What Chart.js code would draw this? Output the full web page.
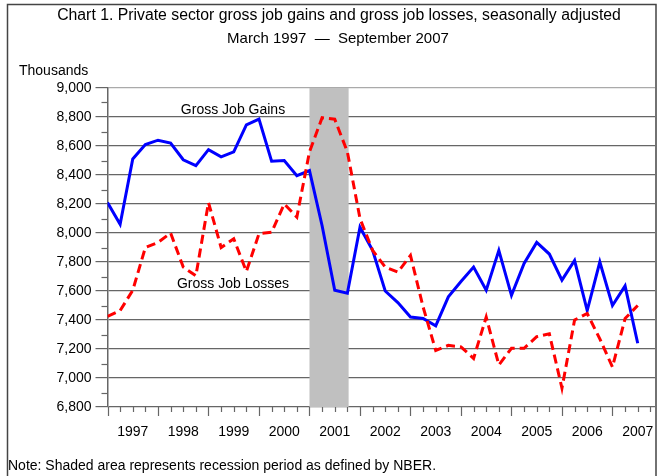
<!DOCTYPE html>
<html>
<head>
<meta charset="utf-8">
<script src="https://cdn.jsdelivr.net/npm/chart.js@4.4.1/dist/chart.umd.min.js"></script>
<style>
  body { margin: 0; background: #fff; }
  #wrap { width: 658px; height: 476px; }
</style>
</head>
<body>
<div id="wrap"><canvas id="myChart" width="658" height="476"></canvas></div>
<script>
// data, quarterly, March 1997 -> September 2007 (thousands)
const years = ["1997", "1998", "1999", "2000", "2001", "2002", "2003", "2004", "2005", "2006", "2007"];
const gains = [8210, 8060, 8510, 8610, 8640, 8620, 8505, 8465, 8575, 8525, 8560, 8745, 8785, 8495, 8500, 8395,
               8430, 8050, 7605, 7585, 8040, 7880, 7600, 7520, 7420, 7410, 7360, 7560, 7665, 7765, 7605, 7880,
               7570, 7790, 7935, 7855, 7675, 7810, 7465, 7800, 7500, 7635, 7240];
const losses = [7425, 7465, 7605, 7900, 7935, 8000, 7765, 7705, 8210, 7900, 7960, 7735, 7995, 8005, 8200, 8110,
                8560, 8795, 8785, 8560, 8100, 7880, 7765, 7730, 7845, 7490, 7190, 7225, 7215, 7135, 7420, 7090,
                7205, 7205, 7285, 7305, 6930, 7400, 7445, 7270, 7075, 7410, 7500];
// recession (quarter index), March 2001 - November 2001
const recession = [16, 19.1];

const FONT = "'Liberation Sans', Arial, sans-serif";

// shaded recession band, drawn above the grid but below the lines
const shadePlugin = {
  id: 'shade',
  beforeDatasetsDraw(chart) {
    const ctx = chart.ctx, xs = chart.scales.x, a = chart.chartArea;
    const x1 = xs.getPixelForValue(recession[0]);
    const x2 = xs.getPixelForValue(recession[1]);
    ctx.save();
    ctx.fillStyle = '#c0c0c0';
    ctx.fillRect(x1, a.top, x2 - x1, a.bottom - a.top);
    ctx.restore();
  }
};

// minor ticks, texts and frame
const extrasPlugin = {
  id: 'extras',
  afterDraw(chart) {
    const ctx = chart.ctx, xs = chart.scales.x, ys = chart.scales.y, a = chart.chartArea;
    ctx.save();
    ctx.strokeStyle = '#666';
    ctx.lineWidth = 1.2;
    // y minor ticks
    for (let v = 6900; v < 9000; v += 200) {
      const y = Math.round(ys.getPixelForValue(v)) + 0.5;
      ctx.beginPath(); ctx.moveTo(a.left - 6, y); ctx.lineTo(a.left, y); ctx.stroke();
    }
    // x ticks : every quarter, longer at each year
    for (let i = 0; i <= 43; i++) {
      const x = Math.round(xs.getPixelForValue(i)) + 0.5;
      const len = i % 4 === 0 ? 9 : 5;
      ctx.beginPath(); ctx.moveTo(x, a.bottom); ctx.lineTo(x, a.bottom + len); ctx.stroke();
    }

    // textes
    ctx.fillStyle = '#000';
    ctx.textBaseline = 'middle';
    ctx.textAlign = 'center';
    ctx.font = '15.8px ' + FONT;
    ctx.fillText('Chart 1. Private sector gross job gains and gross job losses, seasonally adjusted', 339, 16);
    ctx.font = '15px ' + FONT;
    ctx.fillText('March 1997  \u2014  September 2007', 338, 39);
    ctx.font = '14px ' + FONT;
    ctx.fillText('Gross Job Gains', 233, 110);
    ctx.fillText('Gross Job Losses', 233, 284);
    ctx.textAlign = 'left';
    ctx.fillText('Thousands', 19, 71);
    ctx.fillText('Note: Shaded area represents recession period as defined by NBER.', 8, 466);

    // cadre
    ctx.strokeStyle = '#444';
    ctx.lineWidth = 1.5;
    ctx.beginPath();
    ctx.moveTo(7.5, 476); ctx.lineTo(7.5, 4.5); ctx.lineTo(656, 4.5); ctx.lineTo(656, 476);
    ctx.stroke();
    ctx.restore();
  }
};

const data = {
  datasets: [{
    label: 'Gross Job Losses',
    data: losses.map((v, i) => ({ x: i, y: v })),
    borderColor: '#ff0000',
    borderWidth: 3,
    borderDash: [9, 5],
    pointRadius: 0,
    tension: 0,
    order: 0
  }, {
    label: 'Gross Job Gains',
    data: gains.map((v, i) => ({ x: i, y: v })),
    borderColor: '#0000ff',
    borderWidth: 3,
    pointRadius: 0,
    tension: 0,
    order: 1
  }]
};

const config = {
  type: 'line',
  data: data,
  options: {
    responsive: false,
    animation: false,
    layout: { padding: { top: 88, right: 3, left: 0, bottom: 0 } },
    plugins: { legend: { display: false }, tooltip: { enabled: false } },
    scales: {
      x: {
        type: 'linear',
        min: 0,
        max: 43.37,
        afterBuildTicks: s => { s.ticks = years.map((y, i) => ({ value: i * 4 + 2 })); },
        afterFit: s => { s.height = 69; s.paddingLeft = 0; s.paddingRight = 0; },
        grid: { display: false },
        border: { display: false },
        ticks: {
          autoSkip: false,
          maxRotation: 0,
          padding: 9,
          color: '#000',
          font: { family: FONT, size: 14 },
          callback: v => years[(v - 2) / 4]
        }
      },
      y: {
        min: 6800,
        max: 9000,
        afterFit: s => { s.width = 107.5; },
        grid: {
          color: c => c.tick && c.tick.value === 9000 ? '#aaa' : '#666',
          lineWidth: 1.2,
          tickLength: 12,
          tickColor: '#666'
        },
        border: { display: true, color: '#666', width: 1.5 },
        ticks: {
          stepSize: 200,
          padding: 4,
          color: '#000',
          font: { family: FONT, size: 14 },
          callback: v => v.toLocaleString('en-US')
        }
      }
    }
  },
  plugins: [shadePlugin, extrasPlugin]
};

var myChart = new Chart(document.getElementById('myChart'), config);
</script>
</body>
</html>
